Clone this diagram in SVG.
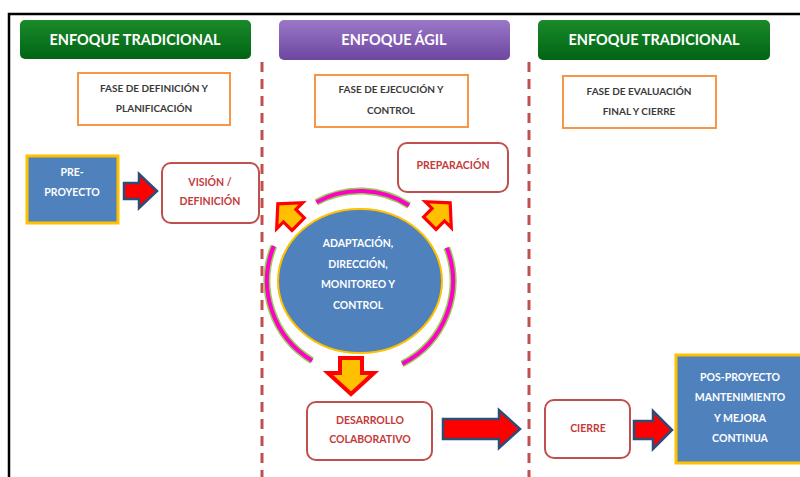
<svg xmlns="http://www.w3.org/2000/svg" width="800" height="477" viewBox="0 0 800 477">
<style>
text{font-family:Lato,"Liberation Sans",sans-serif;font-weight:700;text-anchor:middle;dominant-baseline:central}
.hdr{font-size:14.5px;fill:#ffffff}
.phase rect{fill:#ffffff;stroke:#f79646;stroke-width:2}
.phase text{font-size:10px;fill:#3a3a3a}
.rnode rect{fill:#ffffff;stroke:#c0504d;stroke-width:2}
.rnode text{font-size:10.5px;fill:#c53a3a}
.bnode rect{fill:#4f81bd;stroke:#ffc000;stroke-width:3}
.wt{font-size:10.5px;fill:#ffffff}
.dash{stroke:#c0504d;stroke-width:3;stroke-dasharray:10 7;fill:none}
.barrow{fill:#ff0000;stroke:#2c4d75;stroke-width:2.5;stroke-linejoin:miter}
.oarrow{fill:#ffc000;stroke:#ff0000;stroke-width:4;stroke-linejoin:miter}
.arcg{fill:none;stroke:#92d050;stroke-width:7;stroke-linecap:butt}
.arcm{fill:none;stroke:#ff00cc;stroke-width:4;stroke-linecap:butt}
</style>
<defs>
<linearGradient id="gGreen" x1="0" y1="0" x2="0" y2="1">
<stop offset="0" stop-color="#1a8a2a"/><stop offset="1" stop-color="#006414"/>
</linearGradient>
<linearGradient id="gPurple" x1="0" y1="0" x2="0" y2="1">
<stop offset="0" stop-color="#9a78c8"/><stop offset="1" stop-color="#6d46a0"/>
</linearGradient>
<path id="downArrow" d="M-11,-18 L11,-18 L11,-3 L23,-3 L0,18 L-23,-3 L-11,-3 Z"/>
</defs>
<rect width="800" height="477" fill="#ffffff"/>
<rect x="9" y="14" width="810" height="500" fill="none" stroke="#000000" stroke-width="2.5"/>

<g id="headers">
<g id="hdr1"><rect x="20" y="20" width="231" height="39" rx="5" fill="url(#gGreen)"/><text class="hdr" x="135" y="39">ENFOQUE TRADICIONAL</text></g>
<g id="hdr2"><rect x="279" y="20" width="231" height="40" rx="5" fill="url(#gPurple)"/><text class="hdr" x="394" y="39">ENFOQUE ÁGIL</text></g>
<g id="hdr3"><rect x="538" y="20" width="232" height="40" rx="5" fill="url(#gGreen)"/><text class="hdr" x="654" y="39">ENFOQUE TRADICIONAL</text></g>
</g>

<g id="dividers">
<line class="dash" x1="262" y1="62" x2="262" y2="477"/>
<line class="dash" x1="529" y1="62" x2="529" y2="477"/>
</g>

<g id="phase1" class="phase"><rect x="78" y="73" width="152" height="52"/><text x="154" y="88">FASE DE DEFINICIÓN Y</text><text x="154" y="108">PLANIFICACIÓN</text></g>
<g id="phase2" class="phase"><rect x="315" y="75" width="153" height="52"/><text x="391" y="89">FASE DE EJECUCIÓN Y</text><text x="391" y="110">CONTROL</text></g>
<g id="phase3" class="phase"><rect x="563" y="76" width="153" height="52"/><text x="639" y="91">FASE DE EVALUACIÓN</text><text x="639" y="111">FINAL Y CIERRE</text></g>

<g id="arcs">
<path class="arcg" d="M316.4,202.3 A90,90 0 0 1 409,205.5"/>
<path class="arcm" d="M316.4,202.3 A90,90 0 0 1 409,205.5"/>
<path class="arcg" d="M273.8,246.1 A93,93 0 0 0 312.1,360.7"/>
<path class="arcm" d="M273.8,246.1 A93,93 0 0 0 312.1,360.7"/>
<path class="arcg" d="M446.8,247.7 A93,93 0 0 1 402.2,363.9"/>
<path class="arcm" d="M446.8,247.7 A93,93 0 0 1 402.2,363.9"/>
</g>

<g id="preproyecto" class="bnode"><rect x="27" y="156" width="91" height="67"/><text class="wt" x="72" y="172">PRE-</text><text class="wt" x="72" y="192">PROYECTO</text></g>
<g id="vision" class="rnode"><rect x="162" y="163" width="97" height="60" rx="9"/><text x="210" y="182">VISIÓN /</text><text x="210" y="201">DEFINICIÓN</text></g>
<g id="preparacion" class="rnode"><rect x="398" y="143" width="110" height="49" rx="9"/><text x="453" y="165">PREPARACIÓN</text></g>
<g id="adaptacion"><ellipse cx="360" cy="281" rx="82" ry="72" fill="#4f81bd" stroke="#ffc000" stroke-width="2"/><text class="wt" x="358" y="243">ADAPTACIÓN,</text><text class="wt" x="358" y="264">DIRECCIÓN,</text><text class="wt" x="358" y="284">MONITOREO Y</text><text class="wt" x="358" y="305">CONTROL</text></g>
<g id="desarrollo" class="rnode"><rect x="307" y="402" width="125" height="58" rx="9"/><text x="370" y="420">DESARROLLO</text><text x="370" y="439">COLABORATIVO</text></g>
<g id="cierre" class="rnode"><rect x="545" y="400" width="85" height="58" rx="9"/><text x="588" y="428">CIERRE</text></g>
<g id="posproyecto" class="bnode"><rect x="676" y="355" width="140" height="108"/><text class="wt" x="740" y="377">POS-PROYECTO</text><text class="wt" x="740" y="397">MANTENIMIENTO</text><text class="wt" x="740" y="418">Y MEJORA</text><text class="wt" x="740" y="438">CONTINUA</text></g>

<g id="connectors">
<path class="barrow" d="M124,183 L139,183 L139,174 L157,191 L139,208 L139,199 L124,199 Z"/>
<path class="barrow" d="M443,419 L499,419 L499,410 L520,429 L499,448 L499,439 L443,439 Z"/>
<path class="barrow" d="M634,421 L653,421 L653,411 L672,430 L653,449 L653,439 L634,439 Z"/>
<use href="#downArrow" class="oarrow" transform="translate(288,214) rotate(135) scale(0.8)"/>
<use href="#downArrow" class="oarrow" transform="translate(440,213) rotate(-135) scale(0.8)"/>
<use href="#downArrow" class="oarrow" transform="translate(351,376)"/>
</g>
</svg>
